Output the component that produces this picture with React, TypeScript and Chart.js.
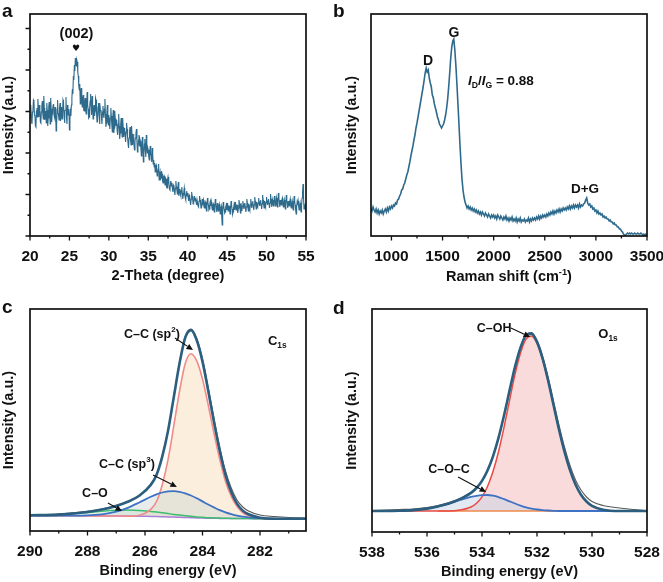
import React, { useEffect, useRef } from 'react';
import { Chart, registerables } from 'chart.js';

Chart.register(...registerables);

const FONT = "'Liberation Sans', Arial, Helvetica, 'DejaVu Sans', sans-serif";
Chart.defaults.font.family = FONT;
Chart.defaults.color = '#111';

// ---------- Panel a: XRD ----------
const XRD_START = 20;
const XRD_STEP = 0.0625;
const XRD_INTENSITY = [
  118, 127, 131, 115, 112, 124, 126, 136, 135, 121, 120, 110, 109, 125, 128, 119,
  137, 126, 119, 131, 127, 114, 113, 124, 130, 135, 122, 117, 140, 128, 116, 121,
  125, 113, 133, 126, 110, 118, 129, 134, 121, 112, 138, 127, 114, 122, 127, 131,
  132, 120, 118, 129, 124, 105, 111, 127, 136, 123, 120, 116, 128, 133, 115, 122,
  129, 117, 122, 136, 134, 120, 113, 125, 126, 139, 119, 112, 131, 124, 121, 127,
  106, 118, 124, 120, 131, 138, 147, 142, 160, 156, 171, 165, 178, 172, 170, 176,
  174, 163, 160, 150, 146, 152, 132, 144, 148, 135, 129, 138, 141, 126, 125, 134,
  138, 126, 122, 133, 144, 131, 127, 118, 119, 128, 135, 142, 128, 121, 140, 131,
  117, 127, 131, 120, 125, 138, 136, 123, 114, 119, 129, 133, 121, 112, 133, 125,
  126, 118, 112, 124, 130, 121, 118, 127, 137, 122, 109, 113, 124, 131, 116, 111,
  121, 114, 107, 118, 128, 120, 111, 104, 119, 126, 103, 108, 125, 117, 110, 116,
  115, 104, 101, 112, 122, 110, 97, 103, 112, 118, 106, 99, 118, 109, 99, 105,
  108, 100, 94, 104, 113, 107, 99, 92, 88, 98, 105, 109, 96, 91, 110, 102,
  91, 99, 102, 93, 86, 95, 98, 103, 107, 94, 84, 89, 96, 101, 90, 97,
  95, 87, 80, 89, 99, 91, 74, 82, 92, 97, 85, 79, 101, 90, 83, 88,
  86, 79, 76, 84, 90, 82, 80, 74, 88, 81, 72, 76, 69, 73, 64, 70,
  71, 66, 60, 63, 67, 72, 56, 61, 64, 57, 58, 65, 62, 55, 53, 59,
  60, 55, 51, 58, 57, 49, 48, 56, 59, 53, 52, 47, 46, 54, 55, 50,
  53, 47, 44, 51, 50, 45, 41, 48, 55, 49, 46, 42, 49, 54, 40, 45,
  47, 42, 40, 46, 49, 43, 37, 41, 44, 48, 42, 38, 36, 43, 45, 40,
  43, 38, 35, 41, 40, 34, 31, 37, 44, 40, 37, 32, 33, 39, 40, 35,
  38, 34, 31, 36, 36, 30, 29, 35, 40, 36, 33, 28, 30, 35, 37, 32,
  36, 31, 28, 33, 34, 29, 25, 30, 38, 33, 31, 26, 27, 33, 35, 30,
  34, 29, 26, 31, 32, 27, 24, 30, 37, 32, 28, 24, 33, 28, 25, 30,
  32, 27, 22, 28, 30, 20, 11, 24, 34, 30, 27, 23, 24, 29, 31, 26,
  33, 28, 25, 30, 30, 26, 22, 27, 35, 31, 27, 22, 24, 28, 31, 26,
  34, 29, 26, 31, 31, 27, 23, 28, 36, 32, 28, 23, 33, 29, 25, 30,
  35, 30, 27, 32, 33, 28, 24, 29, 37, 33, 29, 25, 32, 28, 26, 31,
  37, 32, 28, 33, 35, 30, 26, 31, 39, 35, 31, 27, 34, 30, 29, 33,
  38, 33, 30, 34, 36, 31, 27, 32, 41, 36, 32, 28, 35, 31, 29, 34,
  39, 34, 31, 35, 37, 32, 28, 33, 42, 37, 33, 29, 36, 32, 30, 35,
  40, 35, 30, 34, 38, 33, 29, 34, 43, 38, 33, 29, 36, 32, 31, 36,
  38, 33, 29, 33, 36, 31, 27, 32, 41, 36, 32, 28, 35, 31, 30, 34,
  37, 32, 28, 32, 35, 30, 26, 31, 40, 35, 31, 26, 22, 29, 34, 31,
  35, 30, 26, 30, 33, 28, 24, 30, 38, 44, 52, 38, 27, 29, 31, 27,
  29,
];
const XRD_X_TICKS = [20, 25, 30, 35, 40, 45, 50, 55];
const XRD_X_MINOR = [22.5, 27.5, 32.5, 37.5, 42.5, 47.5, 52.5];
const XRD_Y_TICKS = [0, 41.5, 83, 124.5, 166, 207.5];
const XRD_Y_MINOR = [20.75, 62.25, 103.75, 145.25, 186.75];

// ---------- Panel b: Raman ----------
const RAMAN_START = 800;
const RAMAN_STEP = 10;
const RAMAN_INTENSITY = [
  28, 25, 29, 26, 24, 27, 23, 26, 22, 25,
  23, 26, 22, 25, 27, 24, 28, 25, 29, 27,
  30, 28, 31, 30, 33, 32, 36, 37, 40, 42,
  46, 47, 51, 53, 57, 61, 64, 69, 74, 80,
  85, 90, 96, 101, 108, 113, 119, 125, 131, 137,
  143, 149, 156, 163, 168, 164, 166, 158, 153, 149,
  141, 138, 132, 128, 124, 119, 116, 112, 110, 108,
  110, 112, 116, 121, 128, 137, 149, 163, 178, 189,
  195, 197, 186, 171, 153, 133, 113, 92, 73, 57,
  46, 39, 34, 31, 28, 30, 27, 29, 26, 28,
  25, 27, 24, 26, 23, 25, 22, 24, 21, 24,
  22, 20, 23, 21, 19, 22, 20, 18, 21, 19,
  21, 18, 20, 17, 21, 19, 17, 20, 18, 16,
  19, 17, 20, 16, 18, 15, 18, 16, 19, 15,
  17, 15, 18, 14, 17, 15, 18, 14, 16, 15,
  17, 14, 16, 15, 18, 14, 17, 15, 18, 16,
  18, 16, 19, 17, 20, 17, 20, 18, 21, 19,
  21, 19, 22, 20, 23, 21, 24, 22, 25, 22,
  25, 23, 26, 24, 27, 24, 27, 25, 28, 26,
  28, 26, 29, 27, 30, 27, 30, 28, 31, 28,
  31, 29, 31, 28, 32, 29, 31, 30, 32, 33,
  36, 38, 33, 31, 32, 29, 30, 27, 28, 25,
  26, 23, 25, 22, 23, 21, 22, 19, 20, 18,
  19, 17, 17, 15, 16, 14, 14, 12, 13, 11,
  11, 9, 9, 7, 7, 5, 4, 2, 1, 1,
  2, 3, 2, 3, 2, 3, 2, 2, 3, 2,
  2, 3, 2, 2, 3, 2, 1, 2, 1, 2,
  1,
];
const RAMAN_X_TICKS = [1000, 1500, 2000, 2500, 3000, 3500];
const RAMAN_X_MINOR = [1250, 1750, 2250, 2750, 3250];

// ---------- Panel c: XPS C1s ----------
const C1S_BE = [290, 289, 288, 287.5, 287, 286.6, 286.2, 285.8, 285.6, 285.4, 285.2, 285.0, 284.8, 284.6, 284.4, 284.2, 284.0, 283.8, 283.6, 283.4, 283.2, 283.0, 282.8, 282.6, 282.4, 282.0, 281.5, 281.0, 280.4];
const C1S_RAW = [16.2, 17.0, 19.6, 22.0, 25.8, 29.6, 35.5, 46.0, 56.5, 74.8, 100.5, 134.0, 168.0, 194.5, 202.0, 192.5, 172.0, 143.5, 112.5, 84.0, 60.0, 43.0, 31.0, 24.0, 20.0, 16.0, 14.5, 13.5, 13.0];
const C1S_ENVELOPE = [15.7, 16.4, 19.0, 21.4, 25.1, 29.2, 35.2, 46.1, 56.1, 74.4, 99.9, 133.6, 167.4, 193.5, 200.9, 190.7, 169.4, 140.0, 109.0, 80.2, 55.9, 39.0, 27.4, 20.4, 16.7, 13.3, 12.3, 12.2, 12.2];
const C1S_SP2 = [15.5, 15.4, 15.2, 15.1, 15.0, 14.9, 15.8, 21.6, 29.5, 46.3, 71.1, 104.9, 139.7, 167.5, 177.3, 170.1, 151.9, 125.8, 97.7, 71.6, 49.5, 34.5, 24.4, 18.4, 15.4, 12.8, 12.3, 12.2, 12.2];
const C1S_SP3 = [15.5, 15.4, 15.7, 16.7, 19.4, 23.2, 28.5, 34.2, 36.7, 38.5, 39.6, 39.9, 39.2, 37.7, 35.5, 32.7, 29.6, 26.5, 23.6, 20.9, 18.7, 16.9, 15.4, 14.4, 13.7, 12.8, 12.3, 12.2, 12.2];
const C1S_CO = [15.7, 16.4, 18.5, 19.8, 20.7, 20.9, 20.5, 19.5, 18.9, 18.2, 17.4, 16.6, 15.9, 15.3, 14.7, 14.1, 13.7, 13.3, 13.1, 12.9, 12.7, 12.6, 12.4, 12.4, 12.4, 12.3, 12.3, 12.2, 12.2];
const C1S_BG = [15.5, 15.4, 15.2, 15.1, 15.0, 14.9, 14.8, 14.6, 14.5, 14.3, 14.1, 13.9, 13.7, 13.5, 13.3, 13.1, 12.9, 12.8, 12.7, 12.6, 12.5, 12.5, 12.4, 12.4, 12.4, 12.3, 12.3, 12.2, 12.2];
const C1S_X_TICKS = [290, 288, 286, 284, 282];
const C1S_X_MINOR = [289, 287, 285, 283, 281];

// ---------- Panel d: XPS O1s ----------
const O1S_BE = [538, 537, 536.5, 536, 535.6, 535.2, 534.8, 534.4, 534.2, 534.0, 533.8, 533.6, 533.4, 533.2, 533.0, 532.8, 532.6, 532.4, 532.2, 532.0, 531.8, 531.6, 531.4, 531.2, 531.0, 530.8, 530.6, 530.4, 530.2, 530.0, 529.6, 529.0, 528.5, 528.0];
const O1S_RAW = [21.5, 22.5, 23, 24.5, 26.5, 29.5, 33.5, 39.5, 44.5, 51.5, 62, 76, 94.5, 117, 141.5, 165.5, 185, 197.5, 199.5, 191.5, 176, 155, 131, 107, 85, 66.5, 52, 42, 35, 30.5, 26.5, 24, 22.5, 21.5];
const O1S_ENVELOPE = [21, 21.3, 21.9, 23.4, 25.6, 28.5, 32.9, 39.1, 44, 51.1, 61.5, 75.7, 94.1, 116.5, 141.1, 165.1, 184.4, 196.6, 198.4, 190.1, 173.9, 152.1, 127.2, 102.5, 80.3, 61.8, 47.5, 37.3, 30.5, 26.2, 22.3, 21, 21, 21];
const O1S_COH = [21, 21, 21, 21, 21, 21, 21.9, 25, 28.8, 35.2, 45.5, 60.4, 80.2, 104.6, 131.4, 157.6, 179, 192.9, 196, 188.6, 173, 151.6, 127, 102.5, 80.3, 61.8, 47.5, 37.3, 30.5, 26.2, 22.3, 21, 21, 21];
const O1S_COC = [21, 21.3, 21.9, 23.4, 25.6, 28.5, 32, 35.1, 36.2, 36.9, 37, 36.3, 34.9, 32.9, 30.7, 28.5, 26.4, 24.7, 23.4, 22.5, 21.9, 21.5, 21.2, 21, 21, 21, 21, 21, 21, 21, 21, 21, 21, 21];
const O1S_BG = [null, null, null, null, 21, 21, 21, 21, 21, 21, 21, 21, 21, 21, 21, 21, 21, 21, 21, 21, 21, 21, 21, 21, 21, 21, 21, 21, 21, 21, 21, 21, 21, 21];
const O1S_X_TICKS = [538, 536, 534, 532, 530, 528];
const O1S_X_MINOR = [537, 535, 533, 531, 529];

// ---------- helpers ----------
type Part = { t: string; s?: 'i' | 'sub' | 'sup' };
type Label = { parts: Part[]; x: number; y: number; size: number; align?: 'left' | 'center' };
type Arrow = { x1: number; y1: number; x2: number; y2: number };

const pts = (xs: number[], ys: (number | null)[]) => xs.map((x, i) => ({ x, y: ys[i] }));
const seq = (start: number, step: number, ys: number[]) => ys.map((y, i) => ({ x: start + i * step, y }));

function drawRich(ctx: CanvasRenderingContext2D, parts: Part[], x: number, y: number, size: number, align: string) {
  const f = (p: Part) => {
    const small = p.s === 'sub' || p.s === 'sup';
    const sz = small ? size * 0.64 : size;
    return `${p.s === 'i' ? 'italic ' : ''}bold ${sz}px ${FONT}`;
  };
  let w = 0;
  for (const p of parts) { ctx.font = f(p); w += ctx.measureText(p.t).width; }
  let cx = align === 'center' ? x - w / 2 : x;
  const base = y + size * 0.36;
  ctx.textAlign = 'left';
  ctx.textBaseline = 'alphabetic';
  for (const p of parts) {
    ctx.font = f(p);
    const dy = p.s === 'sub' ? size * 0.22 : p.s === 'sup' ? -size * 0.42 : 0;
    ctx.fillText(p.t, cx, base + dy);
    cx += ctx.measureText(p.t).width;
  }
}

function drawArrow(ctx: CanvasRenderingContext2D, x1: number, y1: number, x2: number, y2: number) {
  const a = Math.atan2(y2 - y1, x2 - x1);
  const hl = 6.5, hw = 3;
  const bx = x2 - hl * Math.cos(a), by = y2 - hl * Math.sin(a);
  ctx.beginPath(); ctx.moveTo(x1, y1); ctx.lineTo(bx, by); ctx.stroke();
  ctx.beginPath();
  ctx.moveTo(x2, y2);
  ctx.lineTo(bx + hw * Math.sin(a), by - hw * Math.cos(a));
  ctx.lineTo(bx - hw * Math.sin(a), by + hw * Math.cos(a));
  ctx.closePath(); ctx.fill();
}

const H = 291;
const TICK_FONT = { size: 15.5, weight: 'bold' as const, lineHeight: 1.2 };
const TITLE_FONT = { size: 14.5, weight: 'bold' as const, lineHeight: 1.2 };

type Spec = {
  key: string; left: number; top: number; width: number;
  area: { l: number; t: number; r: number; b: number };
  datasets: any[];
  xMin: number; xMax: number; reverse?: boolean;
  xTicks: number[]; xMinor: number[];
  yMax: number; yTicks?: number[]; yMinor?: number[];
  xTitle?: string; xTitleRich?: Part[];
  letter: string; letterY: number;
  labels: Label[]; arrows: Arrow[];
  heart?: { x: number; y: number };
  yTitlePad: number;
};

function makeConfig(spec: Spec): any {
  const { area } = spec;
  const decor = {
    id: 'decor_' + spec.key,
    afterDraw(chart: any) {
      const { ctx, chartArea: ca } = chart;
      const xs = chart.scales.x, ys = chart.scales.y;
      ctx.save();
      ctx.strokeStyle = '#111';
      ctx.fillStyle = '#111';
      ctx.lineWidth = 1.3;
      ctx.beginPath();
      for (const v of spec.xTicks) { const p = xs.getPixelForValue(v); ctx.moveTo(p, ca.bottom); ctx.lineTo(p, ca.bottom + 4.5); }
      for (const v of spec.xMinor) { const p = xs.getPixelForValue(v); ctx.moveTo(p, ca.bottom); ctx.lineTo(p, ca.bottom + 2.5); }
      if (spec.yTicks) for (const v of spec.yTicks) { const p = ys.getPixelForValue(v); ctx.moveTo(ca.left, p); ctx.lineTo(ca.left - 4.5, p); }
      if (spec.yMinor) for (const v of spec.yMinor) { const p = ys.getPixelForValue(v); ctx.moveTo(ca.left, p); ctx.lineTo(ca.left - 2.5, p); }
      ctx.stroke();
      ctx.lineWidth = 1.7;
      ctx.strokeRect(ca.left, ca.top, ca.right - ca.left, ca.bottom - ca.top);
      for (const lb of spec.labels) {
        drawRich(ctx, lb.parts, xs.getPixelForValue(lb.x), ys.getPixelForValue(lb.y), lb.size, lb.align || 'center');
      }
      ctx.lineWidth = 1.1;
      for (const ar of spec.arrows) {
        drawArrow(ctx, xs.getPixelForValue(ar.x1), ys.getPixelForValue(ar.y1), xs.getPixelForValue(ar.x2), ys.getPixelForValue(ar.y2));
      }
      if (spec.heart) {
        ctx.font = `bold 9px 'DejaVu Sans', sans-serif`;
        ctx.textAlign = 'center'; ctx.textBaseline = 'middle';
        ctx.fillText('\u2665', xs.getPixelForValue(spec.heart.x), ys.getPixelForValue(spec.heart.y));
      }
      if (spec.xTitleRich) {
        drawRich(ctx, spec.xTitleRich, (ca.left + ca.right) / 2, ca.bottom + 40, 14.5, 'center');
      }
      ctx.font = `bold 19px ${FONT}`;
      ctx.textAlign = 'left'; ctx.textBaseline = 'alphabetic';
      ctx.fillText(spec.letter, 2, spec.letterY);
      ctx.restore();
    },
  };
  return {
    type: 'line',
    data: { datasets: spec.datasets },
    options: {
      responsive: false,
      animation: false,
      devicePixelRatio: 1,
      events: [],
      layout: { padding: { left: 0, top: area.t, right: spec.width - area.r, bottom: 0 } },
      elements: { point: { radius: 0 }, line: { fill: false } },
      plugins: {
        legend: { display: false },
        tooltip: { enabled: false },
        filler: { propagate: false, drawTime: 'beforeDatasetsDraw' },
      },
      scales: {
        x: {
          type: 'linear',
          min: spec.xMin, max: spec.xMax, reverse: !!spec.reverse,
          grid: { display: false },
          border: { display: false },
          afterBuildTicks: (s: any) => { s.ticks = spec.xTicks.map((v) => ({ value: v })); },
          afterFit: (s: any) => { s.height = H - area.b; s.paddingLeft = 0; s.paddingRight = 0; },
          ticks: { font: TICK_FONT, color: '#111', padding: 3, maxRotation: 0, autoSkip: false, callback: (v: any) => String(v) },
          title: spec.xTitle
            ? { display: true, text: spec.xTitle, font: TITLE_FONT, color: '#111', padding: { top: 0, bottom: H - (area.b + 40) - 8.7 } }
            : { display: false },
        },
        y: {
          type: 'linear', min: 0, max: spec.yMax,
          grid: { display: false },
          border: { display: false },
          ticks: { display: false },
          afterBuildTicks: (s: any) => { if (spec.yTicks) s.ticks = spec.yTicks.map((v) => ({ value: v })); },
          afterFit: (s: any) => { s.width = area.l; s.paddingTop = 0; s.paddingBottom = 0; },
          title: { display: true, text: 'Intensity (a.u.)', font: TITLE_FONT, color: '#111', padding: { top: spec.yTitlePad, bottom: 0 } },
        },
      },
    },
    plugins: [decor],
  };
}

const line = (data: any[], color: string, width: number, extra: any = {}) => ({
  data, borderColor: color, borderWidth: width, pointRadius: 0, fill: false, ...extra,
});
const smooth = { cubicInterpolationMode: 'monotone' };

const SPECS: Spec[] = [
  {
    key: 'a', left: 0, top: 0, width: 331,
    area: { l: 30, t: 14, r: 306, b: 236 },
    datasets: [line(seq(XRD_START, XRD_STEP, XRD_INTENSITY), '#2e6a8c', 1.1, { tension: 0 })],
    xMin: 20, xMax: 55, xTicks: XRD_X_TICKS, xMinor: XRD_X_MINOR,
    yMax: 222, yTicks: XRD_Y_TICKS, yMinor: XRD_Y_MINOR,
    xTitle: '2-Theta (degree)', letter: 'a', letterY: 17, yTitlePad: 0.3,
    labels: [{ parts: [{ t: '(002)' }], x: 25.9, y: 203, size: 14.5 }],
    arrows: [], heart: { x: 25.85, y: 187 },
  },
  {
    key: 'b', left: 331, top: 0, width: 332,
    area: { l: 40, t: 14, r: 316, b: 236 },
    datasets: [line(seq(RAMAN_START, RAMAN_STEP, RAMAN_INTENSITY), '#2e6a8c', 1.6, { tension: 0 })],
    xMin: 800, xMax: 3500, xTicks: RAMAN_X_TICKS, xMinor: RAMAN_X_MINOR,
    yMax: 222,
    xTitleRich: [{ t: 'Raman shift (cm' }, { t: '-1', s: 'sup' }, { t: ')' }],
    letter: 'b', letterY: 17, yTitlePad: 12.3,
    labels: [
      { parts: [{ t: 'D' }], x: 1357, y: 176, size: 14 },
      { parts: [{ t: 'G' }], x: 1612, y: 204, size: 14 },
      { parts: [{ t: 'I', s: 'i' }, { t: 'D', s: 'sub' }, { t: '/' }, { t: 'I', s: 'i' }, { t: 'G', s: 'sub' }, { t: ' = 0.88' }], x: 1749, y: 156, size: 13.5, align: 'left' },
      { parts: [{ t: 'D+G' }], x: 2893, y: 48, size: 13.5 },
    ],
    arrows: [],
  },
  {
    key: 'c', left: 0, top: 291, width: 331,
    area: { l: 30, t: 18, r: 306, b: 240 },
    datasets: [
      line(pts(C1S_BE, C1S_ENVELOPE), '#2c5f7f', 2.6, smooth),
      line(pts(C1S_BE, C1S_RAW), '#5a5a5a', 1.1, smooth),
      line(pts(C1S_BE, C1S_SP3), '#3d72c4', 1.8, { ...smooth, fill: 5, backgroundColor: 'rgba(205,215,212,0.45)' }),
      line(pts(C1S_BE, C1S_SP2), '#f28a8a', 1.6, { ...smooth, fill: 5, backgroundColor: 'rgba(250,226,196,0.6)' }),
      line(pts(C1S_BE, C1S_CO), '#3dbb6e', 1.5, { ...smooth, fill: 5, backgroundColor: 'rgba(190,230,200,0.4)' }),
      line(pts(C1S_BE, C1S_BG), '#a97fd8', 1.5, smooth),
    ],
    xMin: 280.4, xMax: 290, reverse: true, xTicks: C1S_X_TICKS, xMinor: C1S_X_MINOR,
    yMax: 222, xTitle: 'Binding energy (eV)', letter: 'c', letterY: 22, yTitlePad: 0.3,
    labels: [
      { parts: [{ t: 'C\u2013C (sp' }, { t: '2', s: 'sup' }, { t: ')' }], x: 285.76, y: 198, size: 12.5 },
      { parts: [{ t: 'C\u2013C (sp' }, { t: '3', s: 'sup' }, { t: ')' }], x: 286.63, y: 68, size: 12.5 },
      { parts: [{ t: 'C\u2013O' }], x: 287.74, y: 39, size: 12.5 },
      { parts: [{ t: 'C' }, { t: '1s', s: 'sub' }], x: 281.4, y: 191, size: 13 },
    ],
    arrows: [
      { x1: 284.96, y1: 193, x2: 284.33, y2: 181 },
      { x1: 285.72, y1: 56, x2: 284.89, y2: 44 },
      { x1: 287.29, y1: 28, x2: 286.8, y2: 20 },
    ],
  },
  {
    key: 'd', left: 331, top: 291, width: 332,
    area: { l: 41, t: 18, r: 316, b: 241 },
    datasets: [
      line(pts(O1S_BE, O1S_ENVELOPE), '#2c5f7f', 2.6, smooth),
      line(pts(O1S_BE, O1S_RAW), '#5a5a5a', 1.1, smooth),
      line(pts(O1S_BE, O1S_COC), '#3d72c4', 1.8, { ...smooth, fill: { value: 21 }, backgroundColor: 'rgba(200,212,232,0.5)' }),
      line(pts(O1S_BE, O1S_COH), '#ea4a44', 1.5, { ...smooth, fill: { value: 21 }, backgroundColor: 'rgba(242,175,175,0.45)' }),
      line(pts(O1S_BE, O1S_BG), '#ee8a4a', 1.6, smooth),
    ],
    xMin: 528, xMax: 538, reverse: true, xTicks: O1S_X_TICKS, xMinor: O1S_X_MINOR,
    yMax: 223, xTitle: 'Binding energy (eV)', letter: 'd', letterY: 23, yTitlePad: 12.3,
    labels: [
      { parts: [{ t: 'C\u2013OH' }], x: 533.56, y: 205, size: 12.5 },
      { parts: [{ t: 'C\u2013O\u2013C' }], x: 535.2, y: 64, size: 12.5 },
      { parts: [{ t: 'O' }, { t: '1s', s: 'sub' }], x: 529.42, y: 199, size: 13 },
    ],
    arrows: [
      { x1: 532.95, y1: 204, x2: 532.25, y2: 195 },
      { x1: 534.87, y1: 55, x2: 533.85, y2: 40 },
    ],
  },
];

function Panel({ spec }: { spec: Spec }) {
  const ref = useRef<HTMLCanvasElement | null>(null);
  useEffect(() => {
    if (!ref.current) return;
    const chart = new Chart(ref.current, makeConfig(spec));
    return () => chart.destroy();
  }, [spec]);
  return (
    <canvas
      ref={ref}
      width={spec.width}
      height={H}
      style={{ position: 'absolute', left: spec.left, top: spec.top, width: spec.width, height: H }}
    />
  );
}

export default function App() {
  return (
    <div style={{ position: 'absolute', left: 0, top: 0, width: 663, height: 582, background: '#fff' }}>
      {SPECS.map((s) => <Panel key={s.key} spec={s} />)}
    </div>
  );
}
